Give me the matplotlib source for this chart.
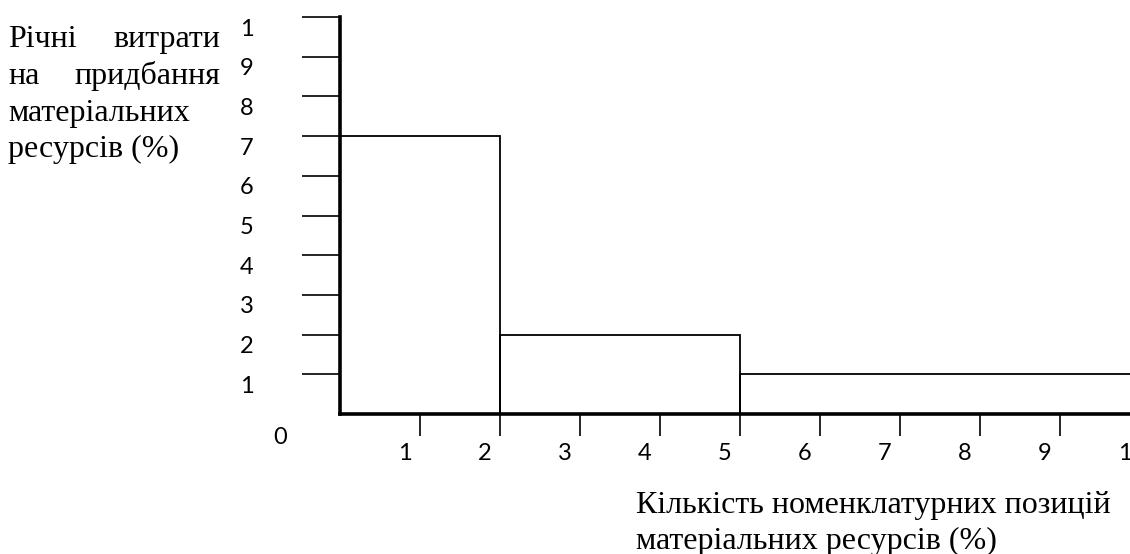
import matplotlib
matplotlib.use('Agg')
import matplotlib.pyplot as plt
from matplotlib.transforms import ScaledTranslation, blended_transform_factory

# ---- data ----
bar_left = [0, 20, 50]          # % of items (start of group)
bar_width = [20, 30, 50]        # % of items in group
bar_height = [70, 20, 10]       # % of annual spending
y_ticks = [10, 20, 30, 40, 50, 60, 70, 80, 90, 100]
y_tick_labels = ['1', '2', '3', '4', '5', '6', '7', '8', '9', '1']
x_ticks = [10, 20, 30, 40, 50, 60, 70, 80, 90, 100]
x_tick_labels = ['1', '2', '3', '4', '5', '6', '7', '8', '9', '1']

W, H, DPI = 1130, 554, 100
fig = plt.figure(figsize=(W / DPI, H / DPI), dpi=DPI)
fig.patch.set_facecolor('white')

ax = fig.add_axes([340 / W, (H - 414) / H, 800 / W, 397 / H])
ax.set_xlim(0, 100)
ax.set_ylim(0, 100)
ax.patch.set_alpha(0)

ax.bar(bar_left, bar_height, width=bar_width, align='edge', fill=False,
       edgecolor='black', linewidth=1.3, zorder=2)

for s in ['top', 'right']:
    ax.spines[s].set_visible(False)
for s in ['left', 'bottom']:
    ax.spines[s].set_linewidth(2.6)
    ax.spines[s].set_zorder(3)

ax.set_yticks(y_ticks)
ax.set_yticklabels([])
ax.set_xticks(x_ticks)
ax.set_xticklabels([])
ax.tick_params(axis='y', direction='out', length=38 * 0.72, width=1.2, color='black')
ax.tick_params(axis='x', direction='out', length=22 * 0.72, width=1.2, color='black')

tick_font = dict(family='Lato', fontsize=17, color='black')
ytr = blended_transform_factory(ax.transAxes, ax.transData) + \
    ScaledTranslation(-0.93, -0.12, fig.dpi_scale_trans)
for v, lab in zip(y_ticks, y_tick_labels):
    ax.text(0, v, lab, transform=ytr, ha='center', va='center', **tick_font)

xtr = blended_transform_factory(ax.transData, ax.transAxes) + \
    ScaledTranslation(-0.15, -0.39, fig.dpi_scale_trans)
for v, lab in zip(x_ticks, x_tick_labels):
    ax.text(v, 0, lab, transform=xtr, ha='center', va='center', **tick_font)

ax.text(0, 0, '0', transform=ax.transData + ScaledTranslation(-0.60, -0.23, fig.dpi_scale_trans),
        ha='center', va='center', **tick_font)

serif = dict(family='Liberation Serif', fontsize=23, color='black', va='baseline')
def ft(x, y, s, ha='left'):
    fig.text(x / W, 1 - y / H, s, ha=ha, **serif)

ft(8, 47, 'Річні')
ft(220, 47, 'витрати', ha='right')
ft(8, 84, 'на')
ft(220, 84, 'придбання', ha='right')
ft(8, 121, 'матеріальних')
ft(8, 157, 'ресурсів (%)')

ft(636, 513, 'Кількість номенклатурних позицій')
ft(636, 549, 'матеріальних ресурсів (%)')

fig.savefig('out.png', dpi=DPI, facecolor='white')
